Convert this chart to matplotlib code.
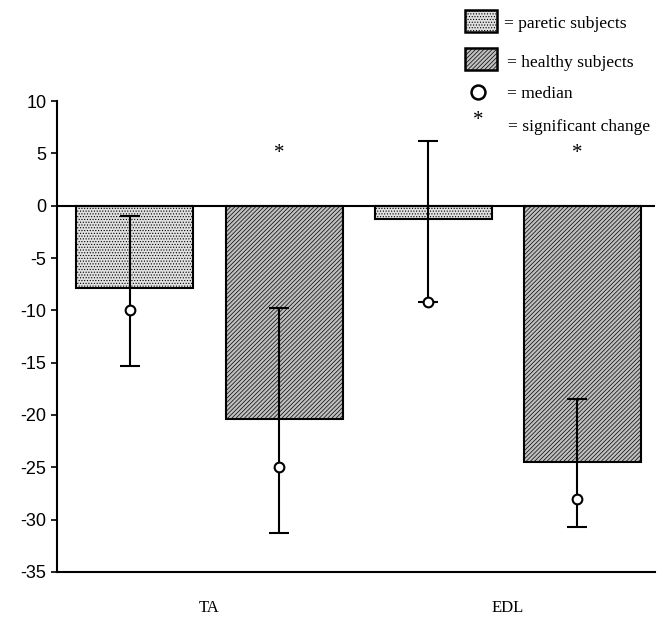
import matplotlib
matplotlib.use('Agg')
import matplotlib.pyplot as plt
from matplotlib.patches import Rectangle
from matplotlib.lines import Line2D

# data
bar_labels = ['TA paretic', 'TA healthy', 'EDL paretic', 'EDL healthy']
means = [-7.9, -20.4, -1.3, -24.5]
err_upper = [-1.0, -9.8, 6.2, -18.5]
err_lower = [-15.35, -31.3, -9.2, -30.7]
medians = [-10.0, -25.0, -9.25, -28.0]
significant = [False, True, False, True]
group_labels = ['TA', 'EDL']

plt.rcParams['hatch.linewidth'] = 0.5
plt.rcParams['axes.unicode_minus'] = False
serif = 'Liberation Serif'
sans = 'Liberation Sans'

fig = plt.figure(figsize=(6.72, 6.22), dpi=100)
ax = fig.add_axes([0.0848, 0.0804, 0.8902, 0.7572])

xs = [0, 1, 2, 3]
styles = [('#e0e0e0', '......'), ('#c0c0c0', '////////')] * 2
for x, m, (fc, h) in zip(xs, means, styles):
    ax.bar(x, m, width=0.785, color=fc, hatch=h, edgecolor='black', linewidth=1.5, zorder=2)

off = -0.034
for x, m, hi, lo, med, sig in zip(xs, means, err_upper, err_lower, medians, significant):
    ax.errorbar(x + off, m, yerr=[[m - lo], [hi - m]], fmt='none', ecolor='black',
                elinewidth=1.5, capsize=7, capthick=1.5, zorder=3)
    ax.plot(x + off, med, 'o', mfc='white', mec='black', ms=7, mew=1.5, zorder=4)
    if sig:
        ax.text(x + off, 5, '*', ha='center', va='center', fontsize=15, family=serif)

ax.axhline(0, color='black', linewidth=1.5, zorder=3)

ax.set_xlim(-0.523, 3.49)
ax.set_ylim(-35, 10)
ax.set_yticks(range(-35, 11, 5))
ax.set_xticks([0.5, 2.5])
ax.set_xticklabels(group_labels, family=serif, fontsize=12)
ax.tick_params(axis='x', length=0, pad=20)
ax.tick_params(axis='y', length=4, width=1.2, labelsize=13)
for t in ax.get_yticklabels():
    t.set_family(sans)
for s in ['top', 'right']:
    ax.spines[s].set_visible(False)
ax.spines['left'].set_linewidth(1.5)
ax.spines['bottom'].set_linewidth(1.5)

# legend drawn by hand in figure pixels
W, H = 672.0, 622.0
def fx(px):
    return px / W
def fy(py):
    return 1 - py / H

fig.add_artist(Rectangle((fx(465), fy(32)), 32 / W, 22 / H, transform=fig.transFigure,
                         facecolor='#e0e0e0', hatch='......', edgecolor='black', linewidth=1.8))
fig.add_artist(Rectangle((fx(465), fy(70)), 32 / W, 22 / H, transform=fig.transFigure,
                         facecolor='#c0c0c0', hatch='////////', edgecolor='black', linewidth=1.8))
fig.add_artist(Line2D([fx(478)], [fy(92)], marker='o', mfc='white', mec='black', ms=10, mew=1.8,
                      transform=fig.transFigure))
fig.text(fx(478), fy(121), '*', ha='center', va='center', fontsize=15, family=serif)

leg_font = dict(family=serif, fontsize=12.6, va='center', ha='left')
fig.text(fx(504), fy(24), '= paretic subjects', **leg_font)
fig.text(fx(507), fy(63), '= healthy subjects', **leg_font)
fig.text(fx(507), fy(94), '= median', **leg_font)
fig.text(fx(508), fy(127), '= significant change', **leg_font)

fig.savefig('out.png', dpi=100)
